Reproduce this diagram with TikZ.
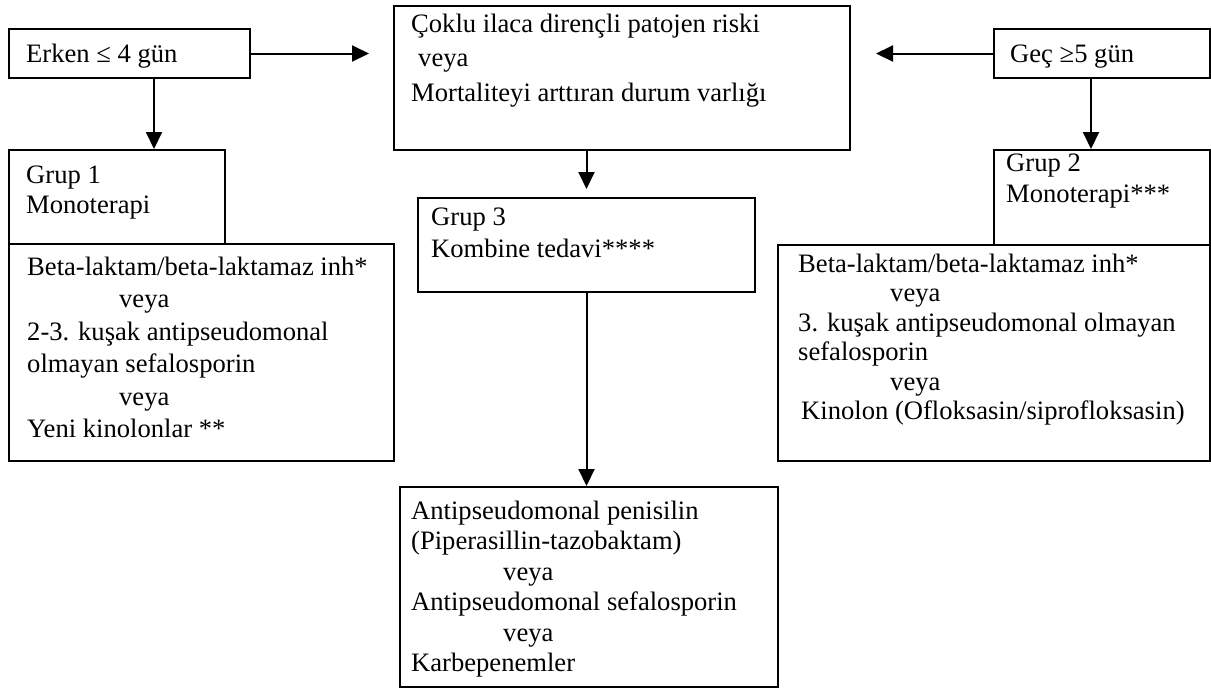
\documentclass[tikz,border=0pt]{standalone}
\usepackage{fontspec}
\setmainfont{Liberation Serif}
\usetikzlibrary{arrows.meta, positioning}
\newcommand{\tstrut}{\rule{0pt}{20pt}}
\newcommand{\veya}{\hspace*{92pt}veya}

\begin{document}
\begin{tikzpicture}
  [x=1pt, y=-1pt,
   box/.style={draw, line width=2pt, inner sep=0pt},
   txt/.style={anchor=north west, inner sep=0pt, align=left},
   arr/.style={-{Triangle[length=17pt, width=16pt]}, line width=2pt}]
  \useasboundingbox (0,0) rectangle (1211,689);

  % boxes
  \node[box, minimum width=241pt, minimum height=49pt] (erken) at (129.5,53.5) {};
  \node[box, minimum width=456pt, minimum height=144pt] (risk) at (622,78) {};
  \node[box, minimum width=216pt, minimum height=49pt] (gec) at (1102,53.5) {};
  \node[box, minimum width=216pt, minimum height=94pt] (grup1) at (117,197) {};
  \node[box, minimum width=385pt, minimum height=217pt] (mono1) at (201.5,352.5) {};
  \node[box, minimum width=337pt, minimum height=94pt] (grup3) at (586.5,245) {};
  \node[box, minimum width=216pt, minimum height=95pt] (grup2) at (1102,197.5) {};
  \node[box, minimum width=432pt, minimum height=216pt] (mono2) at (994,353) {};
  \node[box, minimum width=378pt, minimum height=200pt] (kombine) at (589,587) {};

  % texts
  \node[txt, font=\fontsize{26.6}{32}\selectfont] (erkent) at ([shift={(18,14)}]erken.north west)
    {\tstrut Erken ≤ 4 gün};
  \node[txt, font=\fontsize{26.6}{34.5}\selectfont] (riskt) at ([shift={(18,7)}]risk.north west)
    {\tstrut Çoklu ilaca dirençli patojen riski\\ \hspace*{7pt}veya\\ Mortaliteyi arttıran durum varlığı};
  \node[txt, font=\fontsize{26.6}{32}\selectfont] (gect) at ([shift={(17,14)}]gec.north west)
    {\tstrut Geç ≥5 gün};
  \node[txt, font=\fontsize{26.6}{30}\selectfont] (grup1t) at ([shift={(18,14)}]grup1.north west)
    {\tstrut Grup 1\\ Monoterapi};
  \node[txt, font=\fontsize{26.6}{32.5}\selectfont] (mono1t) at ([shift={(19,12)}]mono1.north west)
    {\tstrut Beta-laktam/beta-laktamaz inh*\\ \veya\\ 2-3. kuşak antipseudomonal\\
     olmayan sefalosporin\\ \veya\\ Yeni kinolonlar **};
  \node[txt, font=\fontsize{26.6}{32}\selectfont] (grup3t) at ([shift={(14,8)}]grup3.north west)
    {\tstrut Grup 3\\ Kombine tedavi****};
  \node[txt, font=\fontsize{26.6}{31}\selectfont] (grup2t) at ([shift={(13,2)}]grup2.north west)
    {\tstrut Grup 2\\ Monoterapi***};
  \node[txt, font=\fontsize{26.6}{29.5}\selectfont] (mono2t) at ([shift={(21,8)}]mono2.north west)
    {\tstrut Beta-laktam/beta-laktamaz inh*\\ \veya\\ 3. kuşak antipseudomonal olmayan\\
     sefalosporin\\ \veya\\ \hspace*{3pt}Kinolon (Ofloksasin/siprofloksasin)};
  \node[txt, font=\fontsize{26.6}{30.5}\selectfont] (kombinet) at ([shift={(12,13)}]kombine.north west)
    {\tstrut Antipseudomonal penisilin\\ (Piperasillin-tazobaktam)\\ \veya\\
     Antipseudomonal sefalosporin\\ \veya\\ Karbepenemler};

  % arrows
  \draw[arr, shorten >=24pt] (erken.east) -- (erken.east -| risk.west);
  \draw[arr, shorten >=25pt] (gec.west) -- (gec.west -| risk.east);
  \draw[arr] ([xshift=24.5pt]erken.south) -- ([xshift=24.5pt]erken.south |- grup1.north);
  \draw[arr] ([xshift=-11pt]gec.south) -- ([xshift=-11pt]gec.south |- grup2.north);
  \draw[arr, shorten >=8pt] (risk.south -| grup3.north) -- (grup3.north);
  \draw[arr] (grup3.south) -- (grup3.south |- kombine.north);
\end{tikzpicture}
\end{document}
